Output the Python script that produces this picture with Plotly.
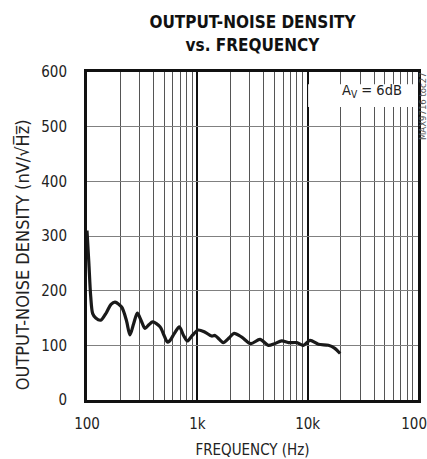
import plotly.graph_objects as go

freq_hz = [100, 104, 108, 112.6, 120, 133, 150, 165, 179.6, 206, 228, 245, 265, 286, 310, 336, 365, 394,
           459, 500, 535, 560, 620, 687, 750, 811, 900, 1020, 1175, 1350, 1446, 1580, 1720, 1950, 2152,
           2525, 3046, 3700, 4400, 5000, 5820, 6690, 7960, 9140, 10510, 12510, 15400, 17500, 19700]
noise_nv = [310, 250, 190, 158, 150, 146, 160, 175, 179, 170, 145, 119, 140, 159, 145, 131, 138, 143,
            134, 118, 106, 108, 122, 134, 118, 108, 118, 128, 124, 117, 118, 111, 105, 114, 122,
            115, 103, 111, 100, 103, 108, 105, 105, 100, 109, 102, 100, 95, 85]

title_text = "<b>OUTPUT-NOISE DENSITY<br>vs. FREQUENCY</b>"
x_title = "FREQUENCY (Hz)"
y_title = "OUTPUT-NOISE DENSITY (nV/√H̅z̅)"
x_tickvals = [100, 1000, 10000, 100000]
x_ticktext = ["100", "1k", "10k", "100k"]
y_tickvals = [0, 100, 200, 300, 400, 500, 600]

FONT = "DejaVu Sans Condensed, Liberation Sans Narrow, sans-serif"

minor_vals = [m * 10 ** d for d in (2, 3, 4) for m in range(2, 10)]

fig = go.Figure()
fig.add_trace(go.Scatter(x=freq_hz, y=noise_nv, mode="lines",
                         line=dict(color="#1a1a1a", width=3.2, shape="spline", smoothing=0.8),
                         hoverinfo="skip", showlegend=False))

fig.update_layout(
    width=427, height=459,
    margin=dict(l=87, r=9, t=72, b=59),
    paper_bgcolor="white", plot_bgcolor="white",
    font=dict(family=FONT, size=15, color="#222"),
    title=dict(text=title_text, xref="paper", x=0.5, xanchor="center",
               yref="container", y=0.938, yanchor="top",
               font=dict(family=FONT, size=17, color="#111")),
    xaxis=dict(type="log", range=[2, 5], tickvals=x_tickvals, ticktext=x_ticktext,
               showgrid=True, gridcolor="#111", gridwidth=1.5,
               minor=dict(tickvals=minor_vals, showgrid=True, gridcolor="#555", gridwidth=1, ticks=""),
               showline=True, linecolor="#111", linewidth=3, mirror=True, ticks="",
               ticklabelstandoff=8, ticklabeloverflow="allow",
               title=dict(text=x_title, font=dict(size=15), standoff=13),
               tickfont=dict(size=15), zeroline=False, automargin=False),
    yaxis=dict(range=[0, 600], tickvals=y_tickvals, showgrid=True, gridcolor="#808080", gridwidth=1,
               showline=True, linecolor="#111", linewidth=3, mirror=True, ticks="",
               ticklabelstandoff=14,
               tickfont=dict(size=15), zeroline=False, automargin=False),
    shapes=[
        dict(type="rect", xref="paper", yref="paper", x0=0.668, x1=0.994, y0=0.893, y1=0.963,
             fillcolor="white", line=dict(width=0), layer="above"),
    ],
    annotations=[
        dict(text=y_title, xref="paper", yref="paper", x=-0.196, y=0.442,
             xanchor="center", yanchor="middle", showarrow=False, textangle=-90,
             font=dict(family=FONT, size=18, color="#222")),
        dict(text="A<sub>V</sub> = 6dB", xref="paper", yref="paper", x=0.957, y=0.942,
             xanchor="right", yanchor="middle", showarrow=False,
             font=dict(family=FONT, size=14.5, color="#222")),
        dict(text="MAX9716 toc27", xref="paper", yref="paper", x=1.0, xshift=4, y=1.006,
             xanchor="center", yanchor="top", showarrow=False, textangle=-90,
             font=dict(family=FONT, size=9.5, color="#555")),
    ],
)

# remove the browser's default 8px body margin so the figure fills the 427x459 window exactly
fig.write_html("out.html", config={"displayModeBar": False},
               post_script="document.body.style.margin='0';document.body.style.overflow='hidden';")
